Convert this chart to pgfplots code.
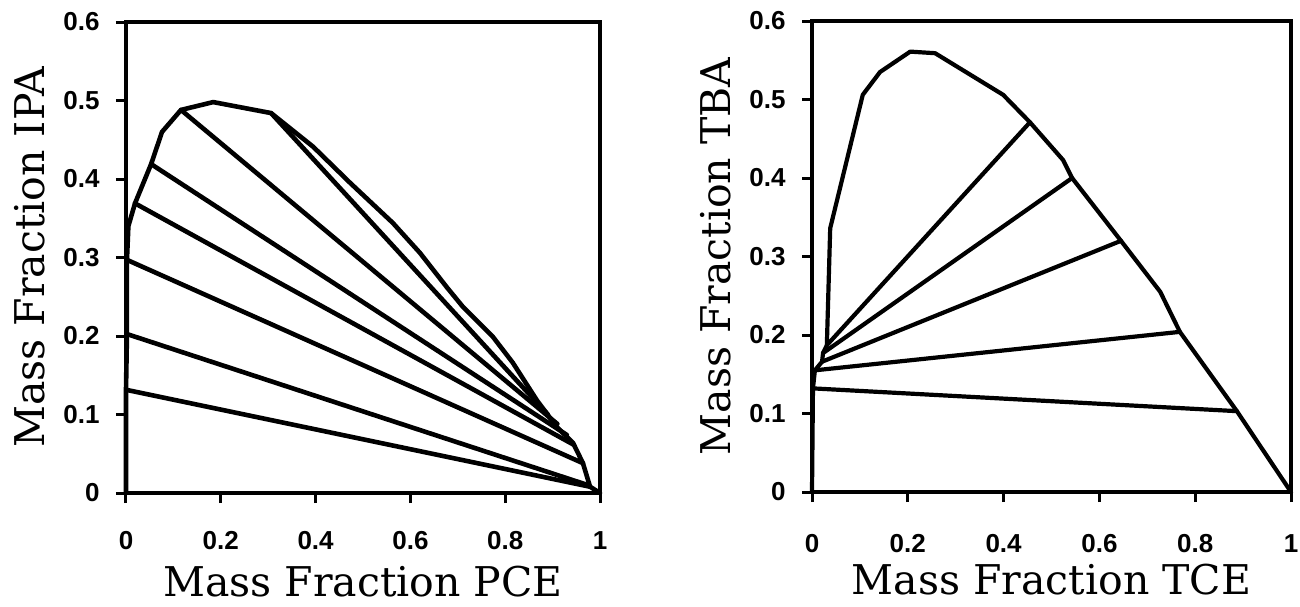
\documentclass[border=0pt]{standalone}
\usepackage{fontspec}
\setmainfont{Liberation Sans}
\newfontfamily\labelfont{DejaVu Serif}
\usepackage{pgfplots}
\pgfplotsset{compat=1.18}

% binodal curves
\pgfplotstableread{
x y
0 0
0 0.131
0.002 0.2025
0.002 0.297
0.005 0.340
0.019 0.369
0.053 0.419
0.076 0.460
0.116 0.488
0.184 0.498
0.306 0.484
0.395 0.441
0.473 0.395
0.563 0.344
0.620 0.306
0.677 0.262
0.711 0.237
0.774 0.199
0.816 0.166
0.867 0.118
0.909 0.084
0.943 0.064
0.964 0.038
0.979 0.008
1 0
}\binpce
\pgfplotstableread{
x y
0 0
0.002 0.132
0.006 0.155
0.021 0.166
0.023 0.177
0.031 0.187
0.038 0.336
0.106 0.506
0.142 0.535
0.205 0.561
0.257 0.559
0.399 0.506
0.455 0.471
0.524 0.423
0.543 0.400
0.645 0.320
0.727 0.255
0.768 0.204
0.887 0.103
1 0
}\bintce

\pgfplotsset{
  tern/.style={
    scale only axis, clip=false,
    xmin=0, xmax=1, ymin=0, ymax=0.6,
    xtick={0,0.2,...,1}, ytick={0,0.1,...,0.6},
    xtick pos=bottom, ytick pos=left,
    tick align=outside, major tick length=5pt,
    every tick/.style={black, line width=1.5pt},
    axis line style={line width=1.8pt},
    tick label style={font=\fontsize{13}{15}\selectfont\bfseries, inner sep=0pt},
    /pgf/number format/assume math mode=true,
    label style={font=\labelfont\fontsize{20.5}{24}\selectfont},
    cycle list={{black,solid}},
    every axis plot/.append style={no markers, line join=round, line cap=round},
  },
}

\begin{document}
\begin{tikzpicture}
\begin{axis}[tern, width=237pt, height=235.5pt, at={(0,0)}, anchor=south west,
    yticklabel shift=8pt, xticklabel shift=14pt,
    xlabel={Mass Fraction PCE}, ylabel={Mass Fraction IPA},
    xlabel style={at={(axis description cs:0.5,-0.219)}, anchor=base},
    ylabel style={at={(axis description cs:-0.171,0.5)}, anchor=base},
    every axis plot/.append style={line width=2.3pt}]
\addplot table[x=x,y=y] {\binpce};
\addplot coordinates {(0.004,0.131) (0.979,0.008)};
\addplot coordinates {(0.002,0.2025) (0.975,0.010)};
\addplot coordinates {(0.002,0.297) (0.964,0.038)};
\addplot coordinates {(0.019,0.369) (0.943,0.062)};
\addplot coordinates {(0.053,0.419) (0.930,0.074)};
\addplot coordinates {(0.116,0.488) (0.910,0.088)};
\addplot coordinates {(0.306,0.484) (0.890,0.100)};
\end{axis}

\begin{axis}[tern, width=239.5pt, height=235.5pt, at={(343pt,0.5pt)}, anchor=south west,
    yticklabel shift=8pt, xticklabel shift=16pt,
    xlabel={Mass Fraction TCE}, ylabel={Mass Fraction TBA},
    xlabel style={at={(axis description cs:0.5,-0.217)}, anchor=base},
    ylabel style={at={(axis description cs:-0.17,0.5)}, anchor=base},
    every axis plot/.append style={line width=2.1pt}]
\addplot table[x=x,y=y] {\bintce};
\addplot coordinates {(0.002,0.132) (0.887,0.103)};
\addplot coordinates {(0.006,0.155) (0.768,0.204)};
\addplot coordinates {(0.021,0.166) (0.645,0.320)};
\addplot coordinates {(0.023,0.177) (0.543,0.400)};
\addplot coordinates {(0.031,0.187) (0.455,0.471)};
\end{axis}

\pgfresetboundingbox
\path[use as bounding box] (-63pt,-56.5pt) rectangle (587pt,246.5pt);
\end{tikzpicture}
\end{document}
